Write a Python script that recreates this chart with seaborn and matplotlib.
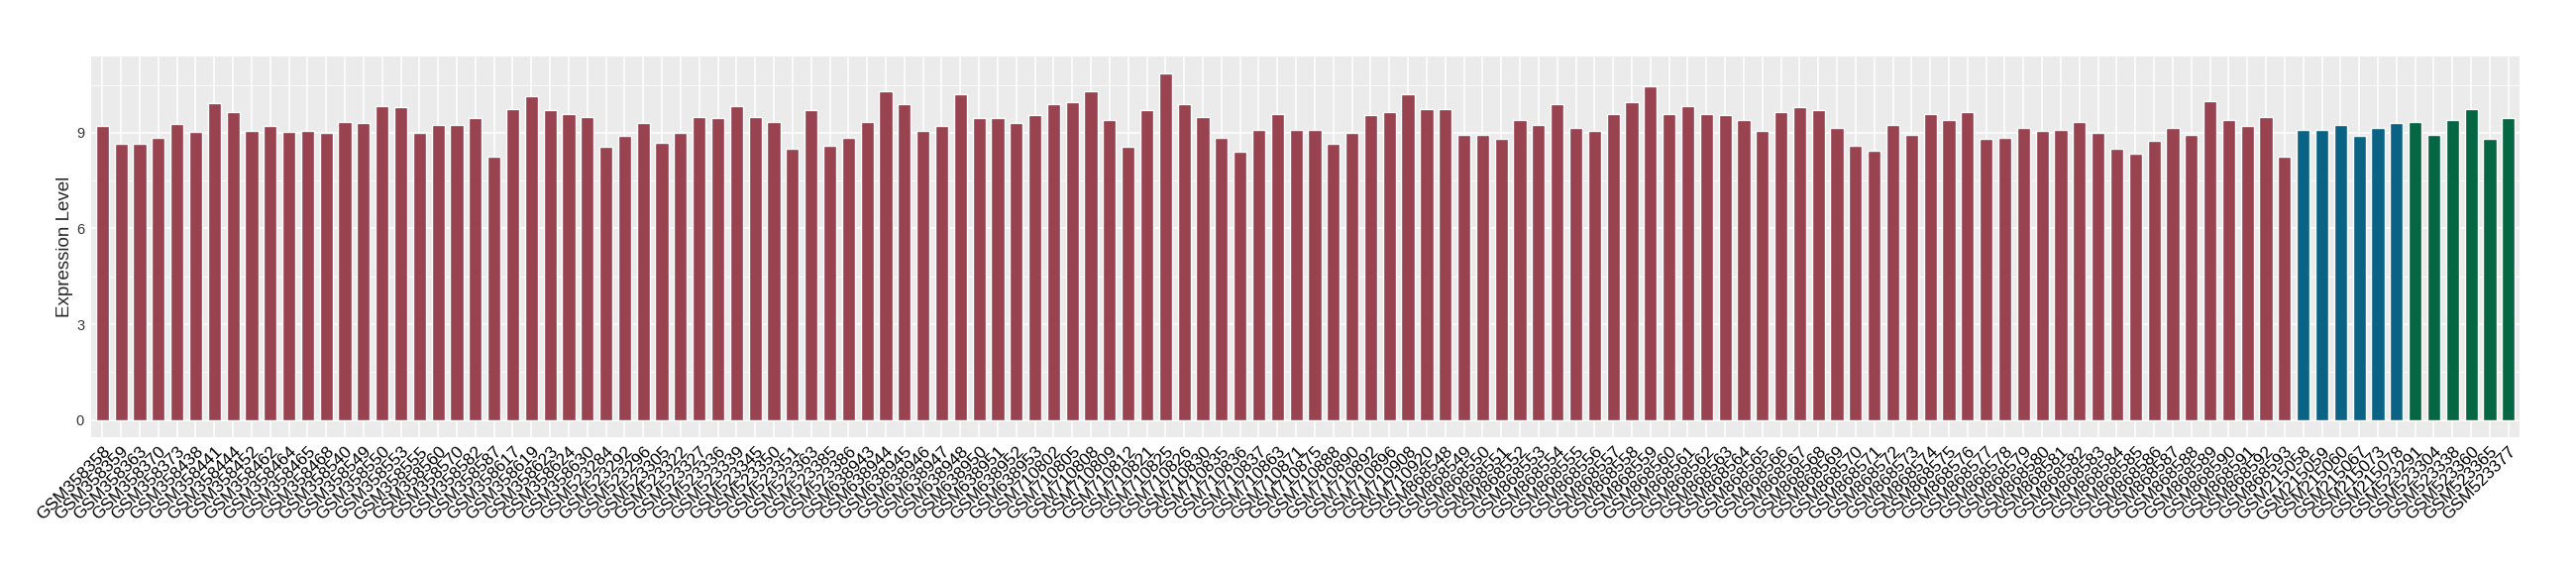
import matplotlib
matplotlib.use("Agg")
import matplotlib.pyplot as plt
import pandas as pd
import seaborn as sns

# sample ids and expression levels, one list per group
group1_samples = [
    "GSM358358", "GSM358359", "GSM358363", "GSM358370", "GSM358373", "GSM358438",
    "GSM358441", "GSM358444", "GSM358452", "GSM358462", "GSM358464", "GSM358465",
    "GSM358468", "GSM358540", "GSM358549", "GSM358550", "GSM358553", "GSM358555",
    "GSM358560", "GSM358570", "GSM358582", "GSM358587", "GSM358617", "GSM358619",
    "GSM358623", "GSM358624", "GSM358630", "GSM523284", "GSM523292", "GSM523296",
    "GSM523305", "GSM523322", "GSM523327", "GSM523336", "GSM523339", "GSM523345",
    "GSM523350", "GSM523351", "GSM523363", "GSM523385", "GSM523386", "GSM638943",
    "GSM638944", "GSM638945", "GSM638946", "GSM638947", "GSM638948", "GSM638950",
    "GSM638951", "GSM638952", "GSM638953", "GSM710802", "GSM710805", "GSM710808",
    "GSM710809", "GSM710812", "GSM710821", "GSM710825", "GSM710826", "GSM710830",
    "GSM710835", "GSM710836", "GSM710837", "GSM710863", "GSM710871", "GSM710875",
    "GSM710888", "GSM710890", "GSM710892", "GSM710896", "GSM710908", "GSM710920",
    "GSM868548", "GSM868549", "GSM868550", "GSM868551", "GSM868552", "GSM868553",
    "GSM868554", "GSM868555", "GSM868556", "GSM868557", "GSM868558", "GSM868559",
    "GSM868560", "GSM868561", "GSM868562", "GSM868563", "GSM868564", "GSM868565",
    "GSM868566", "GSM868567", "GSM868568", "GSM868569", "GSM868570", "GSM868571",
    "GSM868572", "GSM868573", "GSM868574", "GSM868575", "GSM868576", "GSM868577",
    "GSM868578", "GSM868579", "GSM868580", "GSM868581", "GSM868582", "GSM868583",
    "GSM868584", "GSM868585", "GSM868586", "GSM868587", "GSM868588", "GSM868589",
    "GSM868590", "GSM868591", "GSM868592", "GSM868593",
]
group1_values = [
    9.23, 8.67, 8.67, 8.85, 9.29, 9.04, 9.94, 9.66, 9.07, 9.20, 9.04, 9.05,
    9.00, 9.35, 9.30, 9.85, 9.80, 9.00, 9.25, 9.25, 9.45, 8.25, 9.75, 10.15,
    9.70, 9.60, 9.50, 8.55, 8.90, 9.30, 8.70, 9.00, 9.50, 9.45, 9.85, 9.50,
    9.35, 8.50, 9.70, 8.60, 8.85, 9.35, 10.30, 9.90, 9.05, 9.20, 10.20, 9.45,
    9.45, 9.30, 9.55, 9.90, 9.95, 10.30, 9.40, 8.55, 9.70, 10.85, 9.90, 9.50,
    8.85, 8.40, 9.10, 9.60, 9.10, 9.10, 8.65, 9.00, 9.55, 9.65, 10.20, 9.75,
    9.75, 8.95, 8.95, 8.80, 9.40, 9.25, 9.90, 9.15, 9.05, 9.60, 9.95, 10.45,
    9.60, 9.85, 9.60, 9.55, 9.40, 9.05, 9.65, 9.80, 9.70, 9.15, 8.60, 8.45,
    9.25, 8.95, 9.60, 9.40, 9.65, 8.80, 8.85, 9.15, 9.05, 9.10, 9.35, 9.00,
    8.50, 8.35, 8.75, 9.15, 8.95, 10.00, 9.40, 9.20, 9.50, 8.25,
]
group2_samples = ["GSM215058", "GSM215059", "GSM215060", "GSM215067", "GSM215073", "GSM215078"]
group2_values = [9.10, 9.10, 9.25, 8.90, 9.15, 9.30]
group3_samples = ["GSM523291", "GSM523304", "GSM523338", "GSM523360", "GSM523365", "GSM523377"]
group3_values = [9.35, 8.95, 9.40, 9.75, 8.80, 9.45]

group_colors = {"group1": "#9A4350", "group2": "#0A6385", "group3": "#046642"}

df = pd.DataFrame({
    "sample": group1_samples + group2_samples + group3_samples,
    "level": group1_values + group2_values + group3_values,
    "group": ["group1"] * len(group1_samples)
    + ["group2"] * len(group2_samples)
    + ["group3"] * len(group3_samples),
})

sns.set_style("white")
plt.rcParams["font.family"] = ["Liberation Sans", "DejaVu Sans"]

fig = plt.figure(figsize=(26, 5.8), dpi=100)
ax = fig.add_axes([0.0354, 0.2397, 0.9427, 0.662])
ax.set_facecolor("#EBEBEB")

sns.barplot(data=df, x="sample", y="level", hue="group", order=df["sample"],
            palette=group_colors, dodge=False, width=0.7, saturation=1,
            legend=False, ax=ax)

ax.set_xlim(-0.6, len(df) - 0.4)
ax.set_ylim(-0.54, 11.39)
ax.set_yticks([0, 3, 6, 9])
ax.set_yticks([1.5, 4.5, 7.5, 10.5], minor=True)
ax.set_axisbelow(True)
ax.grid(which="major", color="white", linewidth=1.1)
ax.grid(which="minor", axis="y", color="white", linewidth=0.55)
for s in ax.spines.values():
    s.set_visible(False)

ax.tick_params(axis="both", which="major", length=3, width=0.8, color="#333333")
ax.tick_params(axis="y", which="minor", length=0)
ax.tick_params(axis="y", labelsize=10.5, labelcolor="#333333", pad=2)
ax.tick_params(axis="x", labelsize=12.5, labelcolor="black", pad=2)
plt.setp(ax.get_xticklabels(), rotation=45, ha="right", va="top", rotation_mode="anchor")

ax.set_xlabel("")
ax.set_ylabel("Expression Level", fontsize=13.5, labelpad=2)

fig.savefig("out.png", dpi=100)
